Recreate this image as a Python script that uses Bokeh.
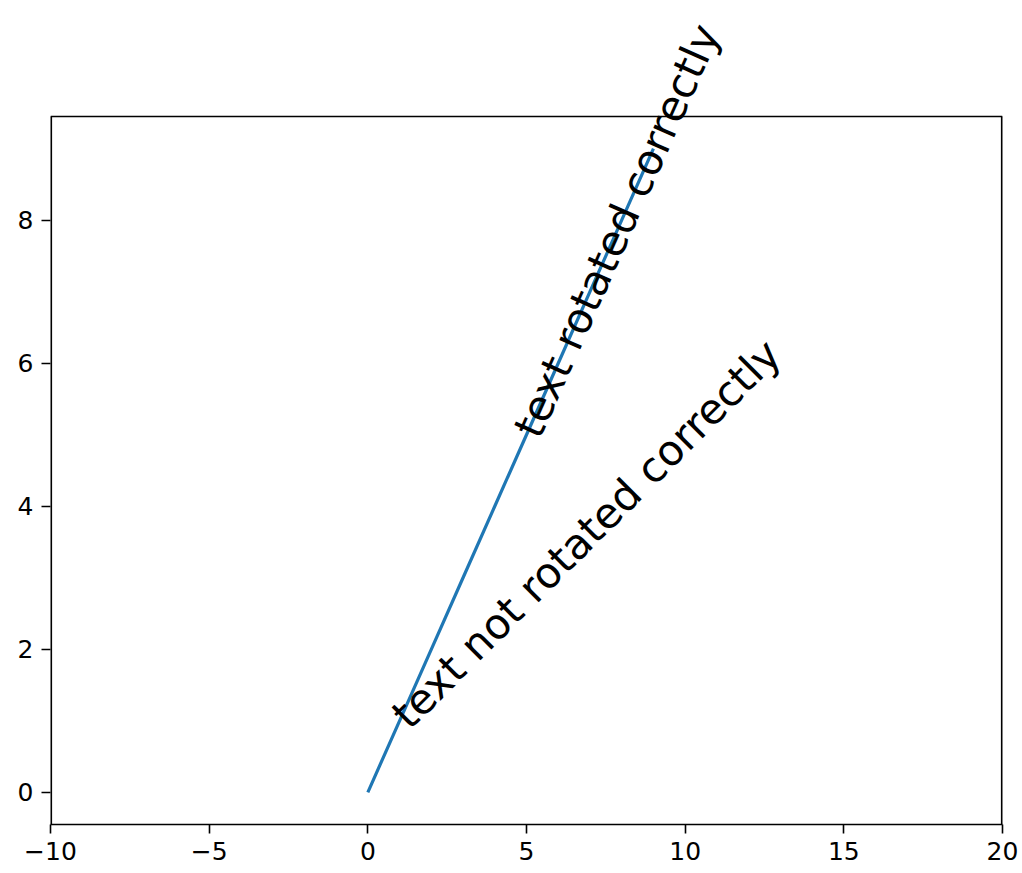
import math
from bokeh.plotting import figure
from bokeh.models import Range1d, FixedTicker, Label, CustomJSTickFormatter
from bokeh.embed import file_html
from bokeh.resources import INLINE

# data
line_x = [0, 1, 2, 3, 4, 5, 6, 7, 8, 9]
line_y = [0, 1, 2, 3, 4, 5, 6, 7, 8, 9]
x_ticks = [-10, -5, 0, 5, 10, 15, 20]
y_ticks = [0, 2, 4, 6, 8]
text_labels = ["text not rotated correctly", "text rotated correctly"]
text_x = [1, 5]
text_y = [1, 5]
text_angle_deg = 45

# axes limits (the visible box)
x_start, x_end = -10, 20
y_start, y_end = -0.45, 9.45

# layout in pixels
FW = 952          # box width
BOX_H = 708       # box height
TOP_SPACE = 116   # room above the box where the text may overflow
FH = BOX_H + TOP_SPACE

# extend the y range upward so that the rotated text is not clipped above the box
y_end_ext = y_start + (y_end - y_start) * FH / BOX_H

p = figure(frame_width=FW, frame_height=FH, output_backend="svg", toolbar_location=None,
           x_range=Range1d(x_start, x_end), y_range=Range1d(y_start, y_end_ext),
           min_border_left=50, min_border_top=0, min_border_right=20, min_border_bottom=45)
p.background_fill_color = "white"
p.border_fill_color = "white"
p.grid.visible = False
p.outline_line_color = None

p.line(line_x, line_y, line_color="#1f77b4", line_width=3.2)

# box spines (left/right half-clipped at frame edges, so double width)
p.segment(x0=[x_start, x_end], y0=[y_start, y_start], x1=[x_start, x_end], y1=[y_end, y_end],
          line_color="black", line_width=3.2)
p.segment(x0=[x_start], y0=[y_end], x1=[x_end], y1=[y_end], line_color="black", line_width=1.6)

for ax, ticks in ((p.xaxis[0], x_ticks), (p.yaxis[0], y_ticks)):
    ax.ticker = FixedTicker(ticks=ticks)
    ax.minor_tick_line_color = None
    ax.major_tick_in = 0
    ax.major_tick_out = 9
    ax.major_tick_line_width = 1.6
    ax.major_tick_line_color = "black"
    ax.major_label_text_font = "DejaVu Sans"
    ax.major_label_text_font_size = "25px"
    ax.major_label_text_color = "black"
    ax.major_label_standoff = 8
p.xaxis[0].axis_line_color = "black"
p.xaxis[0].axis_line_width = 1.6
p.yaxis[0].axis_line_color = None

p.xaxis[0].formatter = CustomJSTickFormatter(code="return (tick < 0 ? '\u2212' + Math.abs(tick) : '' + tick);")

# screen angle of the 45-degree data direction (data -> pixels)
px_per_x = FW / (x_end - x_start)
px_per_y = BOX_H / (y_end - y_start)
screen_angle = math.atan2(math.tan(math.radians(text_angle_deg)) * px_per_y, px_per_x)

angles = [math.radians(text_angle_deg), screen_angle]
for t, x, y, a in zip(text_labels, text_x, text_y, angles):
    p.add_layout(Label(x=x, y=y, text=t, angle=a, angle_units="rad",
                       text_font="DejaVu Sans", text_font_size="42px",
                       text_color="black", text_align="left", text_baseline="alphabetic"))

open("out.html", "w").write(file_html(p, INLINE))
